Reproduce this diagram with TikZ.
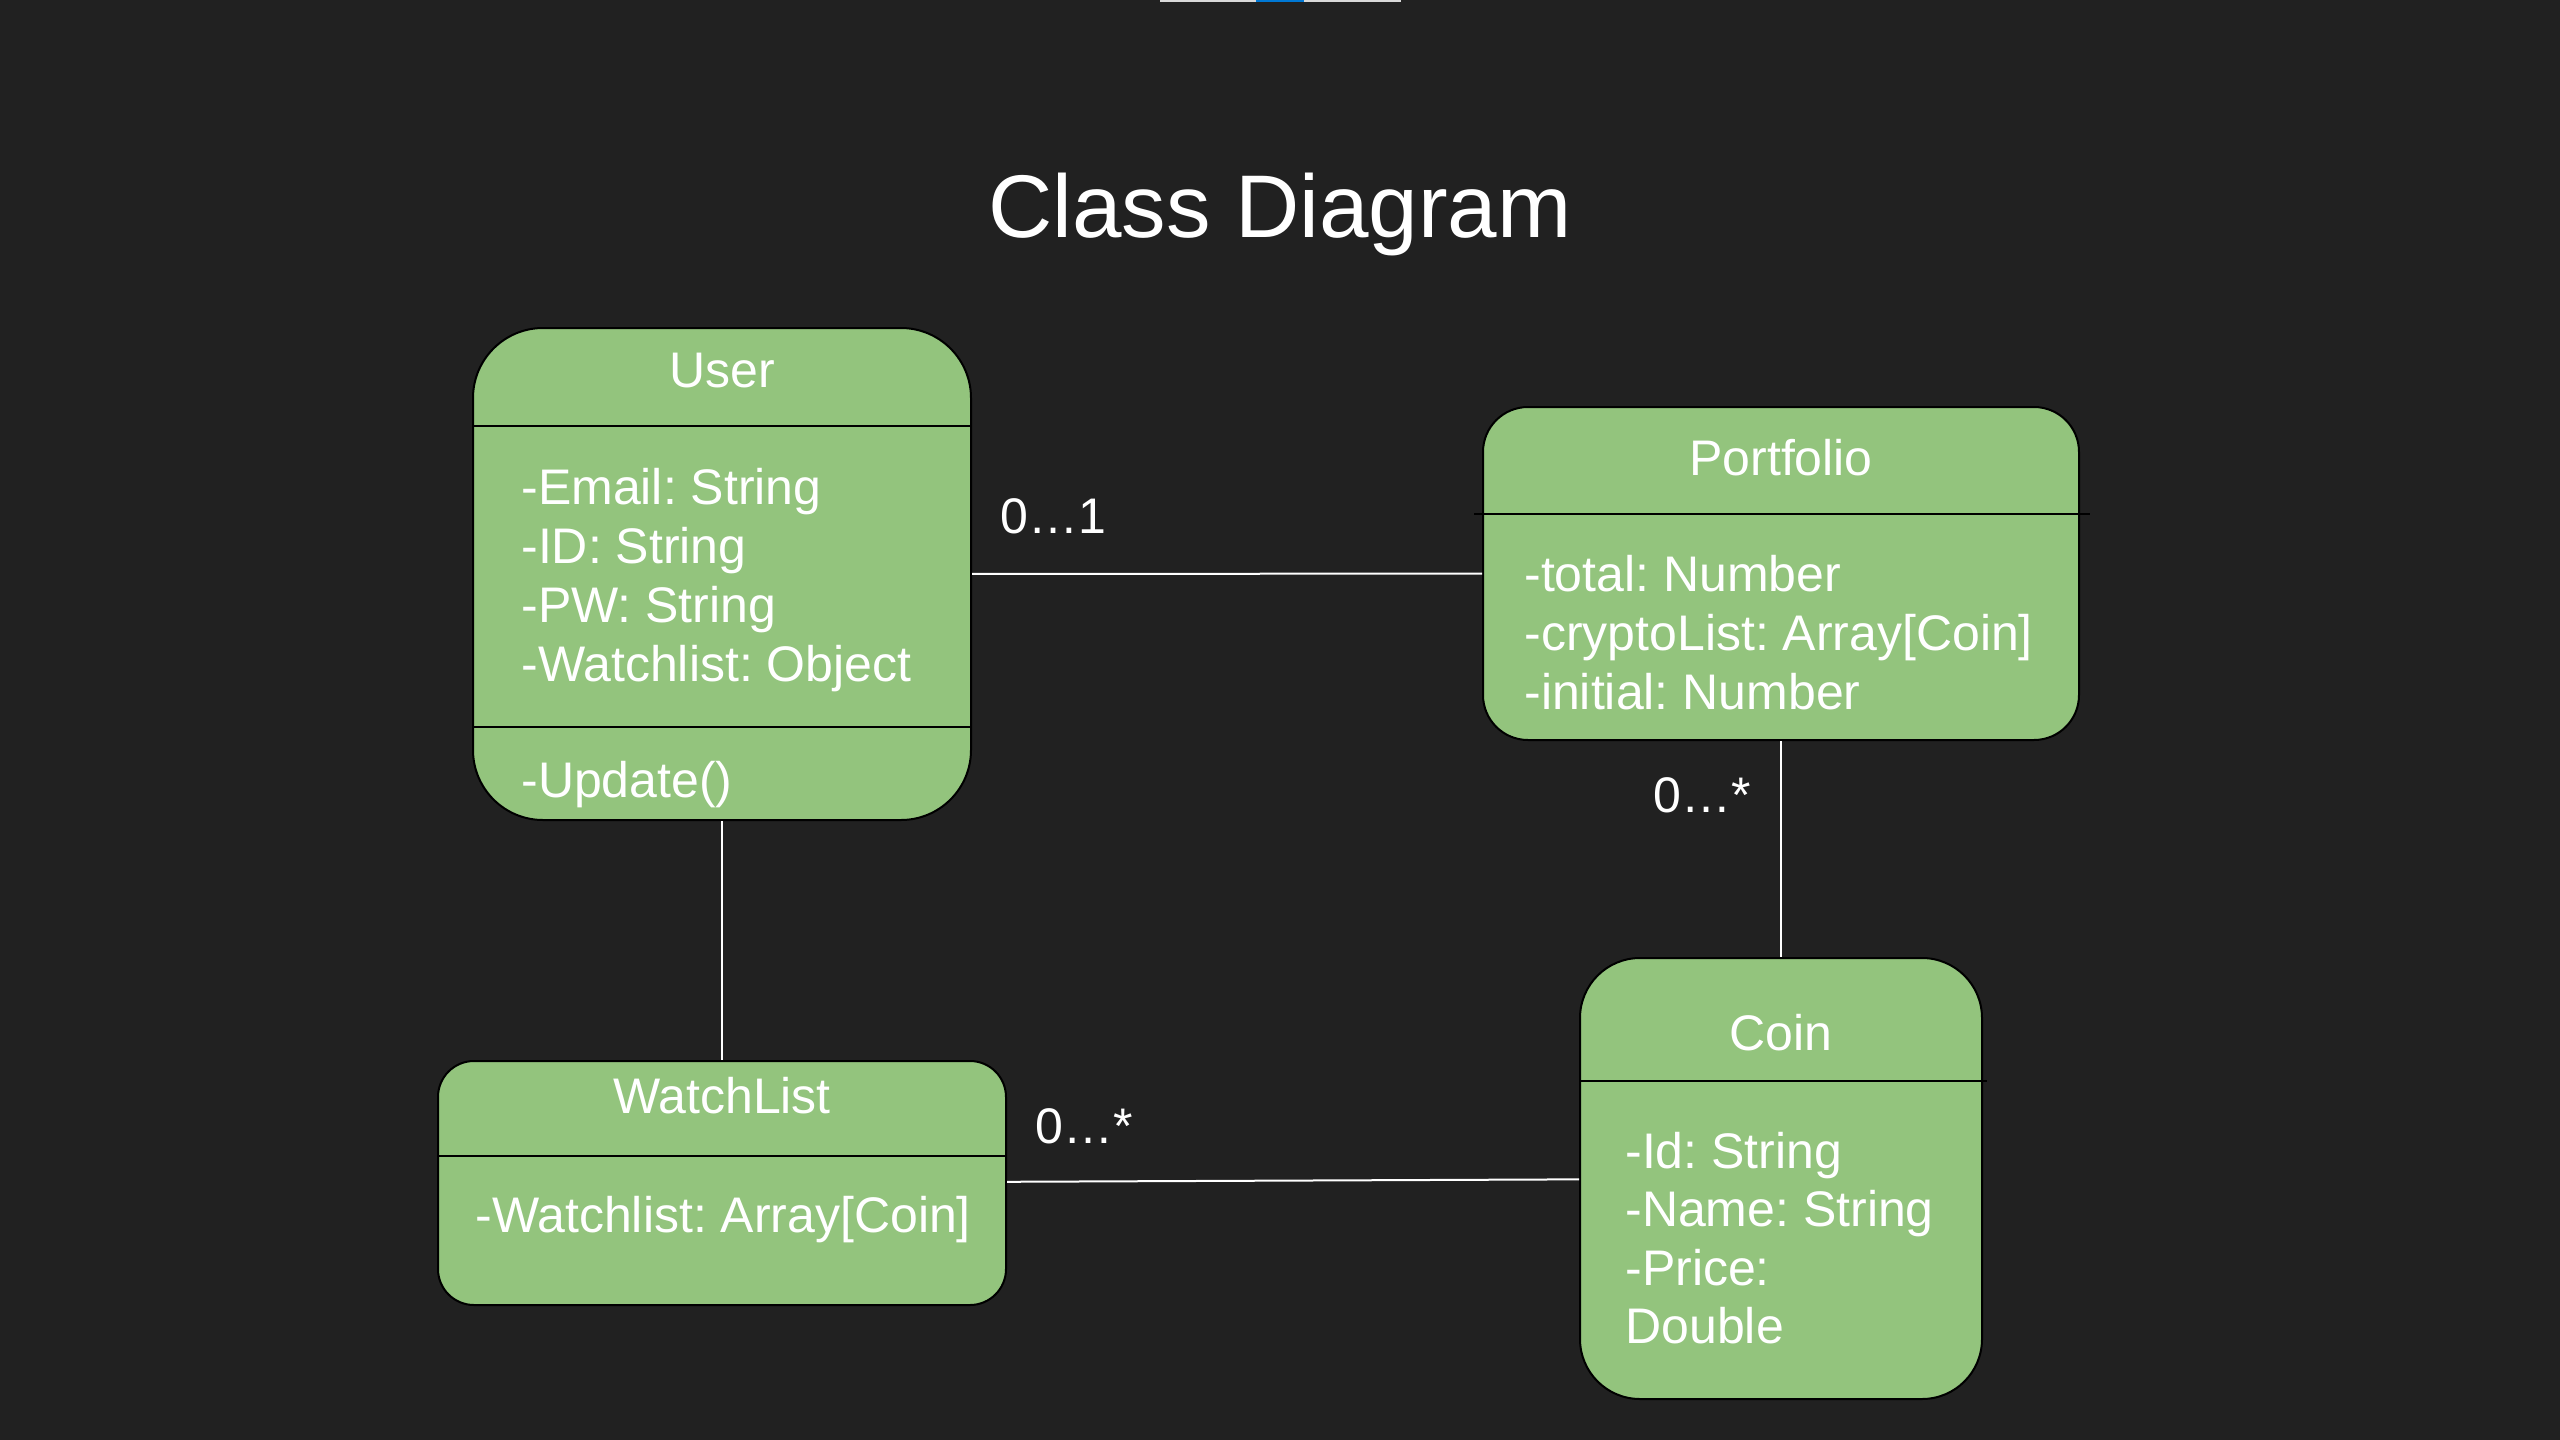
\documentclass[tikz,border=0pt]{standalone}
\usepackage{fontspec}
\setmainfont{Liberation Sans}
\frenchspacing
\definecolor{bgcol}{HTML}{212121}
\definecolor{classgreen}{HTML}{93C47D}
\definecolor{barblue}{HTML}{0078D4}
\definecolor{bargray}{HTML}{D9D9D9}

\begin{document}
\begin{tikzpicture}[x=0.5pt,y=-0.5pt,
    class/.style={draw=black,line width=1pt,fill=classgreen,inner sep=0pt},
    divider/.style={draw=black,line width=1pt},
    link/.style={draw=white,line width=1pt},
    txt/.style={text=white,inner sep=0pt,font=\fontsize{25}{29.5}\selectfont},
    attr/.style={txt,anchor=base west},
    cname/.style={txt,anchor=base},
    mult/.style={txt,anchor=base west}]
    \fill[bgcol] (0,0) rectangle (2560,1440);
    \fill[bargray] (1160,0) rectangle (1401,2);
    \fill[barblue] (1256,0) rectangle (1304,2);

    \node[text=white,inner sep=0pt,font=\fontsize{44.5}{53}\selectfont,anchor=base]
        (title) at (1280,237) {Class Diagram};

    % classes
    \node[class,minimum width=249pt,minimum height=246pt,rounded corners=35pt] (user) at (722,574) {};
    \node[class,minimum width=298pt,minimum height=166.5pt,rounded corners=22.5pt] (portfolio) at (1781,573.5) {};
    \node[class,minimum width=284pt,minimum height=122pt,rounded corners=18pt] (watch) at (722,1183) {};
    \node[class,minimum width=201pt,minimum height=220.5pt,rounded corners=30pt] (coin) at (1781,1178.5) {};

    \draw[divider] (user.west |- 0,426) -- (user.east |- 0,426);
    \draw[divider] (user.west |- 0,727) -- (user.east |- 0,727);
    \draw[divider] (1474,514) -- (2090,514);
    \draw[divider] (watch.west |- 0,1156) -- (watch.east |- 0,1156);
    \draw[divider] (coin.west |- 0,1081) -- (1987,1081);

    % User
    \node[cname] (user-name) at (722,387) {User};
    \foreach \a [count=\i] in {{-Email: String},{-ID: String},{-PW: String},{-Watchlist: Object}}
        \node[attr] (user-a\i) at (521,{504+59*(\i-1)}) {\a};
    \node[attr] (user-m1) at (521,797) {-Update()};

    % Portfolio
    \node[cname] (portfolio-name) at (1781,475) {Portfolio};
    \foreach \a [count=\i] in {{-total: Number},{-cryptoList: Array[Coin]},{-initial: Number}}
        \node[attr] (portfolio-a\i) at (1524,{591+59*(\i-1)}) {\a};

    % WatchList
    \node[cname] (watch-name) at (722,1113) {WatchList};
    \node[attr] (watch-a1) at (475,1232) {-Watchlist: Array[Coin]};

    % Coin
    \node[cname] (coin-name) at (1781,1050) {Coin};
    \foreach \a [count=\i] in {{-Id: String},{-Name: String},{-Price:},{Double}}
        \node[attr] (coin-a\i) at (1625,{1168+58.5*(\i-1)}) {\a};

    % associations
    \draw[link] (user) -- (portfolio);
    \draw[link] (user) -- (watch);
    \draw[link] (portfolio) -- (coin);
    \draw[link] (watch) -- (coin);

    \node[mult] (mult-up) at (1000,533) {0…1};
    \node[mult] (mult-pc) at (1653,812) {0…*};
    \node[mult] (mult-wc) at (1035,1143) {0…*};
\end{tikzpicture}
\end{document}
